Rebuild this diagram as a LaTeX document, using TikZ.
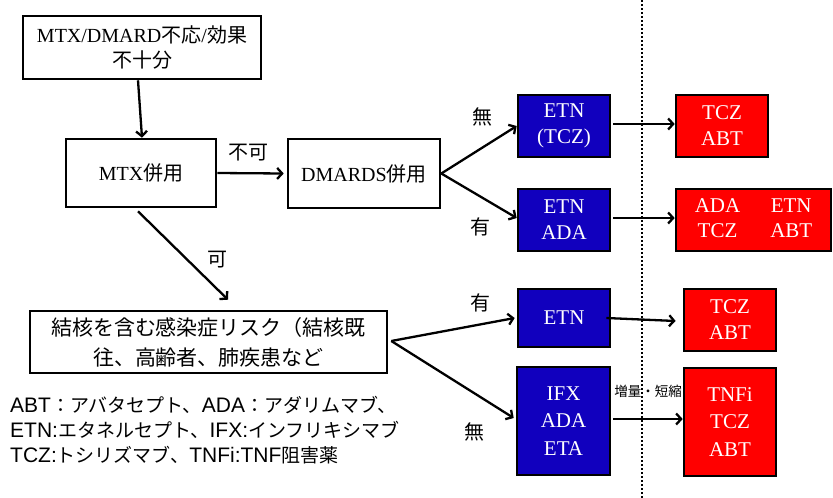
\documentclass[tikz,border=0pt]{standalone}
\usepackage{fontspec}
\setmainfont{Liberation Serif}
\newfontfamily\J{Noto Sans CJK JP}
\newfontfamily\ars{Liberation Sans}
\usetikzlibrary{arrows.meta}
\definecolor{bluebox}{RGB}{17,0,190}
\definecolor{redbox}{RGB}{255,0,0}
\newcommand\JL[1]{{\J\fontsize{19}{25}\selectfont #1}}
\begin{document}
\begin{tikzpicture}[x=1pt,y=-1pt,
  box/.style={draw, line width=2.6pt, inner sep=0pt, align=center, font=\fontsize{20}{25}\selectfont},
  bbox/.style={box, fill=bluebox, text=white, font=\fontsize{21}{26}\selectfont},
  rbox/.style={box, fill=redbox, text=white, font=\fontsize{21}{26}\selectfont},
  arr/.style={line width=2.3pt, -{Straight Barb[length=5pt,width=11pt]}},
  lab/.style={font=\J\fontsize{20}{24}\selectfont, inner sep=0pt},
]
\useasboundingbox (0,0) rectangle (833,498);
\draw[line width=2.2pt, dash pattern=on 2pt off 2pt] (642,0) -- (642,498);

\node[box, minimum width=238pt, minimum height=63pt] (top) at (142,47.5) {MTX/DMARD{\J 不応}/{\J 効果}\\{\J 不十分}};
\node[box, minimum width=150pt, minimum height=68pt] (mtx) at (141,173) {MTX{\J 併用}};
\node[box, minimum width=152pt, minimum height=69pt] (dmards) at (364,173.5) {DMARDS{\J 併用}};
\node[box, minimum width=357pt, minimum height=62pt, font=\J\fontsize{21}{30}\selectfont] (risk) at (208.5,342) {結核を含む感染症リスク（結核既\\往、高齢者、肺疾患など};

\node[bbox, minimum width=92pt, minimum height=62pt] (etn1) at (564,126) {ETN\\(TCZ)};
\node[rbox, minimum width=92pt, minimum height=62pt] (red1) at (722,126) {TCZ\\ABT};
\node[bbox, minimum width=92pt, minimum height=62pt] (etn2) at (564,220) {ETN\\ADA};
\node[rbox, minimum width=155pt, minimum height=62pt] (red2) at (753.5,220) {\begin{tabular}{@{}c@{\hspace{30pt}}c@{}}ADA & ETN\\[-1pt] TCZ & ABT\end{tabular}};
\node[bbox, minimum width=92pt, minimum height=58pt] (etn3) at (564,318) {ETN};
\node[rbox, minimum width=92pt, minimum height=62pt] (red3) at (730,320) {TCZ\\ABT};
\node[bbox, minimum width=93pt, minimum height=108pt, font=\fontsize{21}{27.5}\selectfont] (ifx) at (563.5,421) {IFX\\ADA\\ETA};
\node[rbox, minimum width=92pt, minimum height=108pt, font=\fontsize{21}{27.5}\selectfont] (red4) at (730,422) {TNFi\\TCZ\\ABT};

\node[lab] (lnot) at (248,153) {不可};
\node[lab] (lok) at (217,260) {可};
\node[lab] (lno1) at (482,117) {無};
\node[lab] (lyes1) at (480,227) {有};
\node[lab] (lyes2) at (480,303) {有};
\node[lab] (lno2) at (474,432) {無};
\node[inner sep=0pt, font=\J\fontsize{13.5}{15}\selectfont] (ldose) at (648,391) {増量・短縮};

\node[anchor=west, align=left, inner sep=0pt, font=\ars\fontsize{21}{25}\selectfont] (legend) at (10,430)
 {ABT\JL{：アバタセプト、}ADA\JL{：アダリムマブ、}\\ETN:\JL{エタネルセプト、}IFX:\JL{インフリキシマブ}\\TCZ:\JL{トシリズマブ、}TNFi:TNF\JL{阻害薬}};

\draw[arr] ([xshift=-4pt]top.south) -- ([xshift=1pt]mtx.north);
\draw[arr] (mtx.east) -- ([xshift=-3pt]dmards.west);
\draw[arr] ([xshift=-3pt,yshift=-3pt]mtx.south) -- ([xshift=19.5pt,yshift=10pt]risk.north);
\draw[arr] (dmards.east) -- (etn1.west);
\draw[arr] (dmards.east) -- ([yshift=2pt]etn2.west);
\draw[arr] ([xshift=2pt,yshift=2pt]etn1.east) -- ([yshift=2pt]red1.west);
\draw[arr] ([xshift=2pt,yshift=2pt]etn2.east) -- ([yshift=2pt]red2.west);
\draw[arr] ([xshift=3pt,yshift=1pt]risk.east) -- ([xshift=-2pt]etn3.west);
\draw[arr] ([xshift=3pt,yshift=1pt]risk.east) -- ([xshift=-2pt,yshift=3pt]ifx.west);
\draw[arr] ([xshift=-5pt]etn3.east) -- ([xshift=-7pt,yshift=-1pt]red3.west);
\draw[arr] ([xshift=2pt,yshift=2pt]ifx.east) -- ([yshift=3pt]red4.west);
\end{tikzpicture}
\end{document}
